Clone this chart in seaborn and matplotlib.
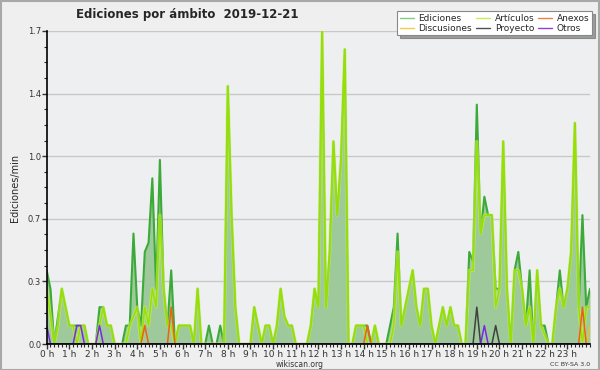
import numpy as np
import pandas as pd
import matplotlib
matplotlib.use("Agg")
import matplotlib.pyplot as plt
from matplotlib.lines import Line2D
from matplotlib.patches import Rectangle
from matplotlib.ticker import MultipleLocator, FixedLocator, FuncFormatter
import seaborn as sns

# 10-minute bins, 0 h .. 24 h
ediciones = [
    0.4, 0.3, 0, 0.15, 0.3, 0.2, 0.1, 0.1, 0.1, 0.1, 0.1, 0,
    0, 0, 0.2, 0.2, 0.1, 0.1, 0, 0, 0, 0.1, 0.1, 0.6,
    0.2, 0.1, 0.5, 0.55, 0.9, 0.3, 1.0, 0.3, 0.1, 0.4, 0, 0.1,
    0.1, 0.1, 0.1, 0, 0.3, 0, 0, 0.1, 0, 0, 0.1, 0,
    1.4, 0.7, 0.2, 0, 0, 0, 0, 0.2, 0.1, 0, 0.1, 0.1,
    0, 0.1, 0.3, 0.15, 0.1, 0.1, 0, 0, 0, 0, 0.1, 0.3,
    0.2, 1.7, 0.2, 0.5, 1.1, 0.7, 1.0, 1.6, 0, 0, 0.1, 0.1,
    0.1, 0.1, 0, 0.1, 0, 0, 0, 0.1, 0.2, 0.6, 0.1, 0.2,
    0.3, 0.4, 0.2, 0.1, 0.3, 0.3, 0.1, 0, 0.1, 0.2, 0.1, 0.2,
    0.1, 0.1, 0, 0, 0.5, 0.45, 1.3, 0.6, 0.8, 0.7, 0.7, 0.3,
    0.3, 1.1, 0.3, 0, 0.4, 0.5, 0.3, 0.1, 0.4, 0, 0.4, 0.1,
    0.1, 0, 0, 0.2, 0.4, 0.2, 0.3, 0.5, 1.2, 0.2, 0.7, 0.2,
    0.3,
]
articulos = [
    0.3, 0.15, 0, 0.1, 0.3, 0.2, 0.1, 0.1, 0, 0.1, 0.1, 0,
    0, 0, 0.1, 0.2, 0.1, 0.1, 0, 0, 0, 0, 0.1, 0.15,
    0.2, 0, 0.2, 0.1, 0.3, 0.2, 0.7, 0.3, 0.1, 0.1, 0, 0.1,
    0.1, 0.1, 0.1, 0, 0.3, 0, 0, 0, 0, 0, 0, 0,
    1.4, 0.7, 0.2, 0, 0, 0, 0, 0.2, 0.1, 0, 0.1, 0.1,
    0, 0.1, 0.3, 0.15, 0.1, 0.1, 0, 0, 0, 0, 0.1, 0.3,
    0.2, 1.7, 0.2, 0.5, 1.1, 0.7, 1.0, 1.6, 0, 0, 0.1, 0.1,
    0.1, 0, 0, 0.1, 0, 0, 0, 0, 0.1, 0.5, 0.1, 0.2,
    0.3, 0.4, 0.2, 0.1, 0.3, 0.3, 0.1, 0, 0.1, 0.2, 0.1, 0.2,
    0.1, 0.1, 0, 0, 0.4, 0.4, 1.1, 0.6, 0.7, 0.7, 0.7, 0.2,
    0.3, 1.1, 0.3, 0, 0.4, 0.4, 0.3, 0.1, 0.2, 0, 0.4, 0.1,
    0.05, 0, 0, 0.2, 0.3, 0.2, 0.3, 0.5, 1.2, 0.2, 0, 0.2,
    0.2,
]
# sparse series: (bin, value)
anexos_bins, anexos_vals = [26, 33, 85, 142], [0.1, 0.2, 0.1, 0.2]
discusiones_bins, discusiones_vals = [144], [0.1]
proyecto_bins, proyecto_vals = [114, 119], [0.2, 0.1]
otros_bins, otros_vals = [0, 8, 9, 14, 116], [0.1, 0.1, 0.1, 0.1, 0.1]

hour_labels = [f"{h} h" for h in range(24)]
ytick_vals = [0, 0.34, 0.68, 1.02, 1.36, 1.7]


def sparse(bins, vals, n):
    arr = np.zeros(n)
    arr[bins] = vals
    return arr


n = len(ediciones)
hours = np.arange(n) / 6.0
df = pd.DataFrame({
    "hora": hours,
    "Ediciones": ediciones,
    "Artículos": articulos,
    "Anexos": sparse(anexos_bins, anexos_vals, n),
    "Discusiones": sparse(discusiones_bins, discusiones_vals, n),
    "Proyecto": sparse(proyecto_bins, proyecto_vals, n),
    "Otros": sparse(otros_bins, otros_vals, n),
})

sns.set_style("white")
plt.rcParams["font.family"] = ["DejaVu Sans"]

fig = plt.figure(figsize=(6, 3.7), dpi=100, facecolor="#efefef")
ax = fig.add_axes([46.7 / 600, 1 - 344 / 370, (590 - 46.7) / 600, (344 - 31) / 370])
ax.set_facecolor("#eeeff1")

ax.fill_between(df["hora"], 0, df["Ediciones"], color="#9ec99b", lw=0, zorder=2)
sns.lineplot(data=df, x="hora", y="Ediciones", ax=ax, color="#3caa38", lw=1.5, zorder=3)
sns.lineplot(data=df, x="hora", y="Artículos", ax=ax, color="#c8f060", lw=2.4, alpha=0.6, zorder=4)
sns.lineplot(data=df, x="hora", y="Artículos", ax=ax, color="#98e000", lw=1.1, zorder=4)
sns.lineplot(data=df, x="hora", y="Discusiones", ax=ax, color="#f0c020", lw=1.1, zorder=5)
sns.lineplot(data=df, x="hora", y="Proyecto", ax=ax, color="#404040", lw=1.1, zorder=5)
sns.lineplot(data=df, x="hora", y="Anexos", ax=ax, color="#f06010", lw=1.1, zorder=5)
sns.lineplot(data=df, x="hora", y="Otros", ax=ax, color="#7a28e8", lw=1.1, zorder=5)

ax.set_xlim(0, 24)
ax.set_ylim(0, 1.7)
ax.set_xticks(range(24))
ax.set_xticklabels(hour_labels)
ax.xaxis.set_minor_locator(MultipleLocator(1 / 6))
ax.yaxis.set_major_locator(FixedLocator(ytick_vals))
ax.yaxis.set_major_formatter(FuncFormatter(lambda v, p: f"{v:.1f}"))
ax.yaxis.set_minor_locator(MultipleLocator(0.085))
ax.tick_params(axis="both", which="major", direction="out", length=3.5, width=1,
               labelsize=6, colors="#333333", pad=0.5, left=True, bottom=True)
ax.tick_params(axis="both", which="minor", direction="out", length=2.5, width=0.8,
               left=True, bottom=True)
ax.tick_params(axis="x", labelsize=6.5)
ax.grid(axis="y", color="#c8c8c8", lw=1, zorder=1)
ax.set_axisbelow(True)
for s in ["top", "right"]:
    ax.spines[s].set_visible(False)
for s in ["left", "bottom"]:
    ax.spines[s].set_color("black")
    ax.spines[s].set_linewidth(1.2)
    ax.spines[s].set_zorder(6)
ax.set_xlabel("")
ax.set_ylabel("Ediciones/min", fontsize=7, labelpad=6)

fig.text(0.312, 0.962, "Ediciones por ámbito  2019-12-21", ha="center", va="center",
         fontsize=8.5, fontweight="bold")
fig.text(0.5, 0.016, "wikiscan.org", ha="center", va="center", fontsize=5.5, color="#333333")
fig.text(0.983, 0.016, "CC BY-SA 3.0", ha="right", va="center", fontsize=4.5, color="#333333")

legend_colors = {
    "Ediciones": "#80cc80", "Discusiones": "#f0d040", "Artículos": "#c8ee50",
    "Proyecto": "#505050", "Anexos": "#f08050", "Otros": "#8a40e8",
}
handles = [Line2D([0], [0], color=c, lw=1) for c in legend_colors.values()]
leg = fig.legend(handles, list(legend_colors.keys()), ncol=3, loc="upper right",
                 bbox_to_anchor=(0.987, 0.97), fontsize=6.5, frameon=True, fancybox=False,
                 shadow=True, handlelength=1.6, handletextpad=0.5, columnspacing=0.4,
                 labelspacing=0.1, borderpad=0.3, borderaxespad=0)
leg.get_frame().set_edgecolor("#888888")
leg.get_frame().set_facecolor("white")
leg.get_frame().set_linewidth(0.8)

fig.patches.append(Rectangle((0.001, 0.001), 0.997, 0.997, transform=fig.transFigure,
                             fill=False, edgecolor="#a8a8a8", lw=1.5))

fig.savefig("out.png", dpi=100, facecolor=fig.get_facecolor())
